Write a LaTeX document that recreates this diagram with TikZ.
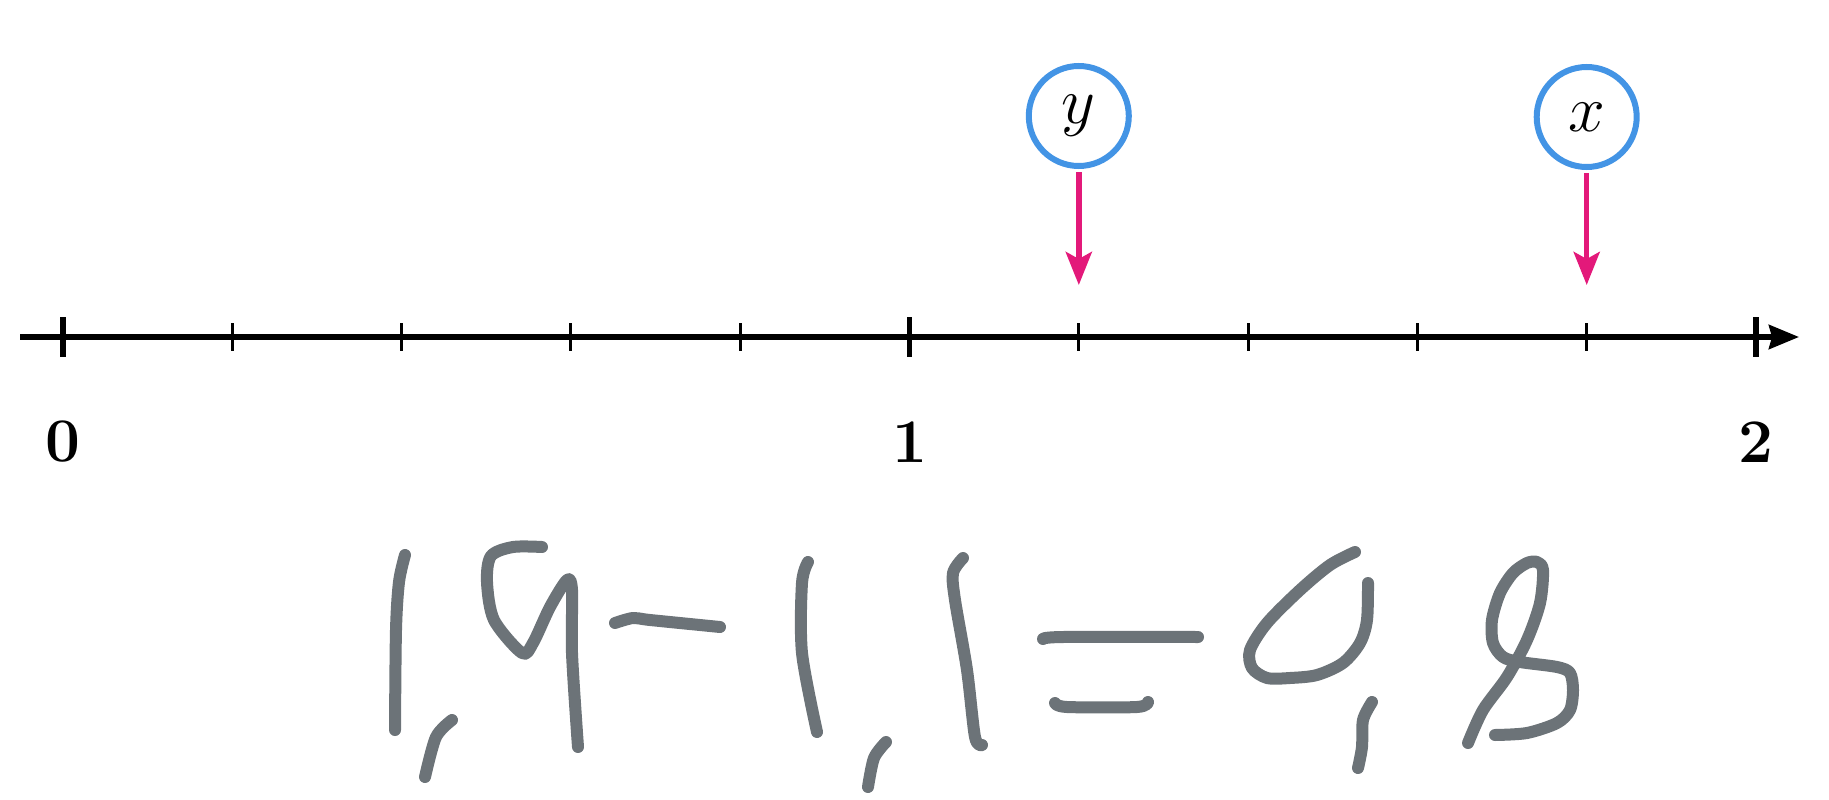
\RequirePackage{fix-cm}
\documentclass[tikz,border=0pt]{standalone}
\usepackage{tikz}
\usetikzlibrary{arrows.meta}
\definecolor{ptblue}{HTML}{4394E5}
\definecolor{ptpink}{HTML}{E3197A}
\definecolor{inkgray}{HTML}{6C7378}

\begin{document}
\begin{tikzpicture}[x=1pt, y=-1pt,
    axisline/.style={line width=5.5pt, -{Stealth[length=30pt, width=24pt, inset=3pt]}},
    majortick/.style={line width=5.5pt},
    minortick/.style={line width=3pt},
    numlabel/.style={font=\fontsize{62}{70}\selectfont\bfseries},
    pointcirc/.style={circle, draw=ptblue, line width=6pt, minimum size=100pt, inner sep=0pt, fill=white, font=\fontsize{66}{70}\selectfont},
    pointer/.style={ptpink, line width=5.5pt, shorten <=3pt, -{Stealth[length=33pt, width=26pt, inset=7pt]}},
    ink/.style={inkgray, line width=12pt, line cap=round, line join=round}]

      \useasboundingbox (0,0) rectangle (1829,800);

      \def\xo{63}
      \def\dx{169.3}
      \def\ya{337}

      \coordinate (axstart) at (20,\ya);
      \coordinate (axend) at (1799,\ya);
      \draw[axisline] (axstart) -- (axend);

      \foreach \i in {1,2,3,4,6,7,8,9}{
        \pgfmathsetmacro{\tx}{\xo+\i*\dx}
        \draw[minortick] (\tx,\ya-14) -- (\tx,\ya+14);
      }
      \foreach \i in {0,5,10}{
        \pgfmathsetmacro{\tx}{\xo+\i*\dx}
        \draw[majortick] (\tx,\ya-20) -- (\tx,\ya+20);
      }

      \node[numlabel] (lbl0) at (\xo,442) {0};
      \node[numlabel] (lbl1) at ({\xo+5*\dx},442) {1};
      \node[numlabel] (lbl2) at ({\xo+10*\dx},442) {2};

      \node[pointcirc] (ycirc) at ({\xo+6*\dx},116) {$y$};
      \node[pointcirc] (xcirc) at ({\xo+9*\dx},117) {$x$};
      \coordinate (ytip) at ({\xo+6*\dx},285);
      \coordinate (xtip) at ({\xo+9*\dx},285);
      \draw[pointer] (ycirc) -- (ytip);
      \draw[pointer] (xcirc) -- (xtip);

      \draw[ink] plot[smooth, tension=0.5] coordinates {(405,555) (399,582) (396,630) (395,730)};
      \draw[ink] plot[smooth, tension=0.5] coordinates {(452,720) (436,737) (425,777)};
      \draw[ink] plot[smooth, tension=0.5] coordinates {(542,547) (513,547) (491,556) (487,582) (494,620) (522,653) (533,643) (550,607) (567,580) (572,590) (572,653) (578,747)};
      \draw[ink] plot[smooth, tension=0.5] coordinates {(615,623) (633,618) (650,620) (720,627)};

      \draw[ink] plot[smooth, tension=0.5] coordinates {(808,562) (802,583) (802,653) (817,732)};
      \draw[ink] plot[smooth, tension=0.5] coordinates {(886,742) (874,758) (868,787)};
      \draw[ink] plot[smooth, tension=0.5] coordinates {(963,558) (953,573) (955,600) (967,670) (975,737) (982,745)};
      \draw[ink] plot[smooth, tension=0.5] coordinates {(1043,639) (1063,637) (1198,637)};
      \draw[ink] plot[smooth, tension=0.5] coordinates {(1055,703) (1067,707) (1137,707) (1148,702)};

      \draw[ink] plot[smooth, tension=0.5] coordinates {(1355,552) (1330,565) (1300,590) (1267,623) (1250,650) (1252,668) (1267,678) (1290,678) (1317,675) (1343,663) (1360,643) (1367,620) (1368,583)};
      \draw[ink] plot[smooth, tension=0.5] coordinates {(1372,702) (1363,720) (1362,747) (1358,768)};
      \draw[ink] plot[smooth, tension=0.5] coordinates {(1468,743) (1483,710) (1507,677) (1527,640) (1540,603) (1543,570) (1537,562) (1527,563) (1513,573) (1500,593) (1492,620) (1493,643) (1503,657) (1520,662) (1557,667) (1570,673) (1573,690) (1570,710) (1557,723) (1527,733) (1495,735)};

    \end{tikzpicture}
\end{document}
